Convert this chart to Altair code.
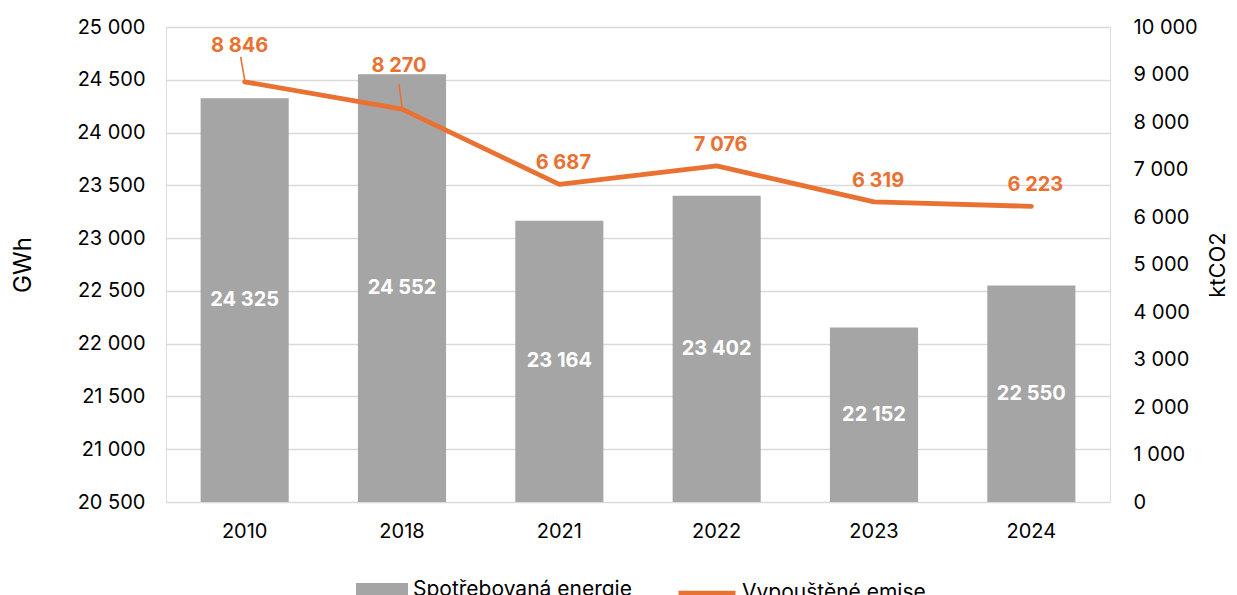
import altair as alt
import pandas as pd

years = ["2010", "2018", "2021", "2022", "2023", "2024"]
energy = [24325, 24552, 23164, 23402, 22152, 22550]
emissions = [8846, 8270, 6687, 7076, 6319, 6223]
energy_ticks = [20500, 21000, 21500, 22000, 22500, 23000, 23500, 24000, 24500, 25000]
emission_ticks = [0, 1000, 2000, 3000, 4000, 5000, 6000, 7000, 8000, 9000, 10000]
series_names = ["Spotřebovaná energie", "Vypouštěné emise"]
axis_titles = ["GWh", "ktCO2"]

df = pd.DataFrame({
    "year": years,
    "energy": energy,
    "emis": emissions,
    "bar_series": series_names[0],
    "line_series": series_names[1],
})
df["energy_base"] = energy_ticks[0]

FONT = "Inter"
GRAY = "#A5A5A5"
ORANGE = "#E97132"
GRID = "#D9D9D9"

W, H = 944, 475

x_enc = alt.X(
    "year:N", sort=years, title=None,
    scale=alt.Scale(paddingInner=0.44, paddingOuter=0.22),
    axis=alt.Axis(labelAngle=0, ticks=False, domain=False, grid=False,
                  labelPadding=19, labelFontSize=20, labelFont=FONT, labelColor="#000000"),
)

left_scale = alt.Scale(domain=[energy_ticks[0], energy_ticks[-1]], nice=False, zero=False)
left_axis = alt.Axis(
    values=energy_ticks, format=",d", orient="left", ticks=False, domain=False,
    grid=True, gridColor=GRID, gridWidth=1.3,
    labelFontSize=20, labelFont=FONT, labelColor="#000000", labelPadding=21,
    title=axis_titles[0], titleFont=FONT, titleFontSize=24, titleFontWeight="normal",
    titleColor="#000000", titleAngle=270, titleX=-143, titleY=H / 2,
    titleAlign="center", titleBaseline="middle",
)
right_scale = alt.Scale(domain=[emission_ticks[0], emission_ticks[-1]], nice=False, zero=True)
right_axis = alt.Axis(
    values=emission_ticks, format=",d", orient="right", ticks=False, domain=False,
    grid=False,
    labelFontSize=20, labelFont=FONT, labelColor="#000000", labelPadding=23,
    title=axis_titles[1], titleFont=FONT, titleFontSize=22, titleFontWeight="normal",
    titleColor="#000000", titleAngle=270, titleX=107, titleY=H / 2,
    titleAlign="center", titleBaseline="middle",
)

y_left = alt.Y("energy:Q", scale=left_scale, axis=left_axis)
y_right = alt.Y("emis:Q", scale=right_scale, axis=right_axis)

base = alt.Chart(df)

bars = base.mark_bar().encode(
    x=x_enc,
    y=y_left,
    y2=alt.Y2("energy_base:Q"),
    color=alt.Color(
        "bar_series:N",
        scale=alt.Scale(domain=[series_names[0]], range=[GRAY]),
        legend=alt.Legend(
            title=None, orient="none", legendX=190, legendY=537, padding=0,
            symbolType="M-1,-0.27H1V0.27H-1Z", symbolSize=2704, symbolStrokeWidth=0,
            labelFont=FONT, labelFontSize=21, labelColor="#000000", labelOffset=5,
            labelLimit=400,
        ),
    ),
)

bar_labels = base.transform_calculate(
    mid="(datum.energy + datum.energy_base) / 2"
).mark_text(
    font=FONT, fontSize=20, fontWeight="bold", color="#FFFFFF", baseline="middle"
).encode(
    x=x_enc,
    y=alt.Y("mid:Q", scale=left_scale, axis=left_axis),
    text=alt.Text("energy:Q", format=",d"),
)

line = base.mark_line(strokeWidth=4.8, strokeCap="round", strokeJoin="round").encode(
    x=x_enc,
    y=y_right,
    color=alt.Color(
        "line_series:N",
        scale=alt.Scale(domain=[series_names[1]], range=[ORANGE]),
        legend=alt.Legend(
            title=None, orient="none", legendX=510, legendY=535, padding=0,
            symbolType="stroke", symbolSize=3249, symbolStrokeWidth=4.5,
            labelFont=FONT, labelFontSize=21, labelColor="#000000", labelOffset=4,
            labelLimit=400,
        ),
    ),
)

labels_regular = base.transform_filter(
    alt.FieldOneOfPredicate(field="year", oneOf=years[2:])
).mark_text(
    font=FONT, fontSize=20, fontWeight="bold", color=ORANGE, baseline="middle", dy=-21, dx=4
).encode(x=x_enc, y=y_right, text=alt.Text("emis:Q", format=",d"))

label_2010 = base.transform_filter(alt.datum.year == years[0]).mark_text(
    font=FONT, fontSize=20, fontWeight="bold", color=ORANGE, baseline="middle", dy=-36, dx=-5
).encode(x=x_enc, y=y_right, text=alt.Text("emis:Q", format=",d"))

label_2018 = base.transform_filter(alt.datum.year == years[1]).mark_text(
    font=FONT, fontSize=20, fontWeight="bold", color=ORANGE, baseline="middle", dy=-43, dx=-3
).encode(x=x_enc, y=y_right, text=alt.Text("emis:Q", format=",d"))

leader_2010 = base.transform_filter(alt.datum.year == years[0]).mark_rule(
    color=ORANGE, strokeWidth=1.6, yOffset=-2, y2Offset=-25, x2Offset=-4
).encode(x=x_enc, x2=alt.X2("year:N"), y=y_right, y2=alt.Y2("emis:Q"))

leader_2018 = base.transform_filter(alt.datum.year == years[1]).mark_rule(
    color=ORANGE, strokeWidth=1.6, yOffset=-2, y2Offset=-25, x2Offset=-3
).encode(x=x_enc, x2=alt.X2("year:N"), y=y_right, y2=alt.Y2("emis:Q"))

left_layer = alt.layer(bars, bar_labels)
right_layer = alt.layer(line, leader_2010, leader_2018, labels_regular, label_2010, label_2018)

chart = alt.layer(left_layer, right_layer).resolve_scale(
    y="independent", color="independent"
).resolve_legend(color="independent").properties(
    width=W, height=H,
    autosize=alt.AutoSizeParams(type="none"),
    padding={"left": 158, "top": 19, "right": 119, "bottom": 100},
).configure_view(stroke=None).configure(font=FONT, background="#FFFFFF")

chart.save(
    "out.html",
    embed_options={
        "renderer": "svg",
        "actions": False,
        "formatLocale": {
            "decimal": ",",
            "thousands": "\u00a0",
            "grouping": [3],
            "currency": ["", " Kč"],
        },
    },
)
